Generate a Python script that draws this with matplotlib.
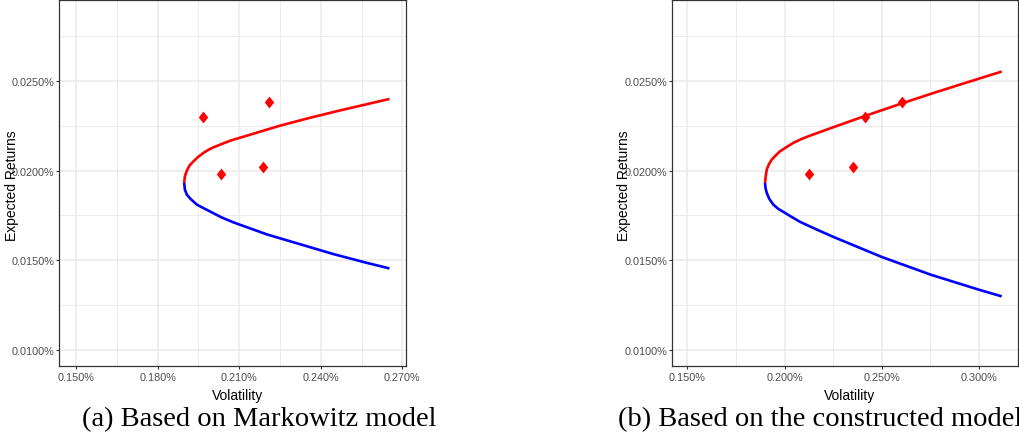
import matplotlib
matplotlib.use("Agg")
import matplotlib.pyplot as plt
from matplotlib.ticker import FixedLocator

# ---------------- data ----------------
# Panel (a): Markowitz model
a_upper_vol = [0.18978, 0.19004, 0.19077, 0.19173, 0.19320, 0.19504, 0.19688, 0.19871,
               0.20055, 0.20669, 0.21283, 0.21893, 0.22507, 0.23610, 0.24713, 0.26526]
a_upper_ret = [0.01931, 0.01968, 0.02000, 0.02028, 0.02052, 0.02078, 0.02099, 0.02116,
               0.02130, 0.02167, 0.02195, 0.02223, 0.02251, 0.02295, 0.02336, 0.02400]
a_lower_vol = [0.18978, 0.19004, 0.19077, 0.19199, 0.19445, 0.19750, 0.20055, 0.20364,
               0.20790, 0.22018, 0.23243, 0.24467, 0.25695, 0.26526]
a_lower_ret = [0.01931, 0.01894, 0.01866, 0.01844, 0.01810, 0.01786, 0.01762, 0.01738,
               0.01711, 0.01644, 0.01589, 0.01534, 0.01485, 0.01454]
a_asset_vol = [0.19688, 0.22114, 0.20338, 0.21871]

# Panel (b): constructed model
b_upper_vol = [0.18997, 0.19033, 0.19085, 0.19203, 0.19342, 0.19547, 0.19769, 0.20113,
               0.20453, 0.20884, 0.21311, 0.22170, 0.23024, 0.24140, 0.26027, 0.27652,
               0.29369, 0.31169]
b_upper_ret = [0.01931, 0.01968, 0.02006, 0.02037, 0.02061, 0.02085, 0.02108, 0.02132,
               0.02155, 0.02177, 0.02195, 0.02229, 0.02262, 0.02305, 0.02375, 0.02433,
               0.02492, 0.02553]
b_lower_vol = [0.18997, 0.19023, 0.19085, 0.19218, 0.19424, 0.19681, 0.20026, 0.20370,
               0.20797, 0.21656, 0.22510, 0.24998, 0.27518, 0.30002, 0.31169]
b_lower_ret = [0.01931, 0.01902, 0.01876, 0.01842, 0.01810, 0.01786, 0.01764, 0.01741,
               0.01714, 0.01671, 0.01630, 0.01518, 0.01419, 0.01335, 0.01298]
b_asset_vol = [0.21260, 0.23538, 0.24140, 0.26027]
b_asset_ret = [0.01983, 0.02021, 0.02298, 0.02381]

asset_ret = [0.02298, 0.02381, 0.01983, 0.02021]

a_xticks = [0.15, 0.18, 0.21, 0.24, 0.27]
a_xticklabels = ["0.150%", "0.180%", "0.210%", "0.240%", "0.270%"]
b_xticks = [0.15, 0.20, 0.25, 0.30]
b_xticklabels = ["0.150%", "0.200%", "0.250%", "0.300%"]
yticks = [0.010, 0.015, 0.020, 0.025]
yticklabels = ["0.0100%", "0.0150%", "0.0200%", "0.0250%"]

captions = ["(a) Based on Markowitz model", "(b) Based on the constructed model"]

# ---------------- figure ----------------
W, H = 1019, 439
fig = plt.figure(figsize=(W / 100, H / 100), dpi=100)

def fx(px):
    return px / W

def fy(py):
    return 1 - py / H

diamond = [(0, 1), (0.8, 0), (0, -1), (-0.8, 0), (0, 1)]

def setup(ax, xlim, xticks, xlabels, xminor):
    ax.set_xlim(*xlim)
    ax.set_ylim(0.00911, 0.02954)
    ax.xaxis.set_major_locator(FixedLocator(xticks))
    ax.xaxis.set_minor_locator(FixedLocator(xminor))
    ax.yaxis.set_major_locator(FixedLocator(yticks))
    ax.yaxis.set_minor_locator(FixedLocator([0.0125, 0.0175, 0.0225, 0.0275]))
    ax.set_xticklabels(xlabels)
    ax.set_yticklabels(yticklabels)
    ax.grid(which="major", color="#EBEBEB", lw=1.2)
    ax.grid(which="minor", color="#EBEBEB", lw=0.65)
    ax.set_axisbelow(True)
    for s in ax.spines.values():
        s.set_color("#333333")
        s.set_linewidth(0.9)
    ax.tick_params(which="major", length=2.5, width=0.8, color="#333333",
                   labelcolor="#4D4D4D", labelsize=7.8)
    ax.tick_params(axis="x", which="major", pad=2)
    ax.tick_params(axis="y", which="major", pad=1)
    ax.tick_params(which="minor", length=0)
    for lab in ax.get_xticklabels() + ax.get_yticklabels():
        lab.set_fontfamily("Liberation Sans")

line_kw = dict(lw=1.9, solid_capstyle="butt", solid_joinstyle="round", zorder=3)

# Panel (a)
ax1 = fig.add_axes([fx(59.3), fy(366.7), fx(406 - 59.3), (366.7 - 0.7) / H])
setup(ax1, (0.14386, 0.27136), a_xticks, a_xticklabels, [0.165, 0.195, 0.225, 0.255])
ax1.plot(a_upper_vol, a_upper_ret, color="#FF0000", **line_kw)
ax1.plot(a_lower_vol, a_lower_ret, color="#0000FF", **line_kw)
ax1.plot(a_asset_vol, asset_ret, ls="none", marker=diamond, ms=8.5, color="#FF0000",
         mec="none", zorder=4)

# Panel (b)
ax2 = fig.add_axes([fx(672.3), fy(366.7), fx(1017.7 - 672.3), (366.7 - 0.7) / H])
setup(ax2, (0.14229, 0.3199), b_xticks, b_xticklabels, [0.175, 0.225, 0.275])
ax2.plot(b_upper_vol, b_upper_ret, color="#FF0000", **line_kw)
ax2.plot(b_lower_vol, b_lower_ret, color="#0000FF", **line_kw)
ax2.plot(b_asset_vol, b_asset_ret, ls="none", marker=diamond, ms=8.5, color="#FF0000",
         mec="none", zorder=4)

# Axis titles
for xc, yl in [(237.5, 11.7), (850, 624)]:
    fig.text(fx(xc), fy(396), "Volatility", ha="center", va="center",
             fontsize=10, family="Liberation Sans", color="black")
    fig.text(fx(yl), fy(186), "Expected Returns", ha="center", va="center",
             rotation=90, fontsize=10, family="Liberation Sans", color="black")

# Captions
fig.text(fx(82), fy(420), captions[0], ha="left", va="center",
         fontsize=20.5, family="Liberation Serif", color="black")
fig.text(fx(618), fy(420), captions[1], ha="left", va="center",
         fontsize=20.5, family="Liberation Serif", color="black")

fig.savefig("out.png", dpi=100)
